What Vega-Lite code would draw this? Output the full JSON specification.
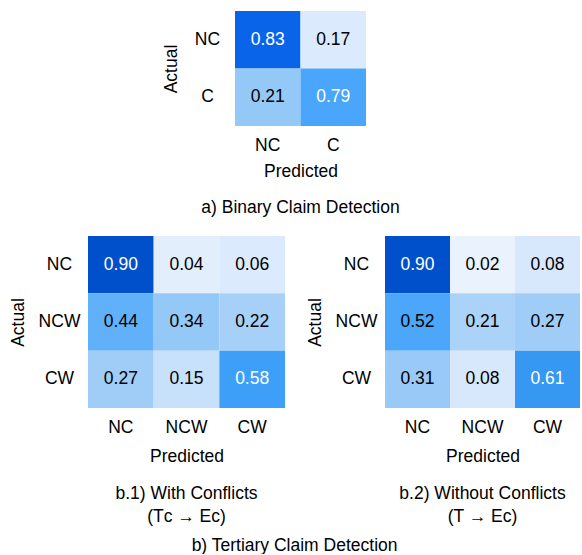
{
  "$schema": "https://vega.github.io/schema/vega-lite/v6.json",
  "padding": {"left": 9, "top": 11, "right": 0, "bottom": 0},
  "background": "white",
  "config": {
    "font": "Liberation Sans",
    "view": {"stroke": null},
    "axis": {"domain": false, "ticks": false, "tickSize": 0, "grid": false, "labelFontSize": 17.5, "titleFontSize": 17.5, "titleFontWeight": "normal", "labelColor": "#000", "titleColor": "#000", "labelPadding": 10, "titlePadding": 9},
    "title": {"fontSize": 17.5, "fontWeight": "normal", "color": "#000", "orient": "bottom", "frame": "group", "anchor": "middle"}
  },
  "datasets": {
    "binary": [
      {"actual": "NC", "predicted": "NC", "value": 0.83},
      {"actual": "NC", "predicted": "C", "value": 0.17},
      {"actual": "C", "predicted": "NC", "value": 0.21},
      {"actual": "C", "predicted": "C", "value": 0.79}
    ],
    "withConflicts": [
      {"actual": "NC", "predicted": "NC", "value": 0.90},
      {"actual": "NC", "predicted": "NCW", "value": 0.04},
      {"actual": "NC", "predicted": "CW", "value": 0.06},
      {"actual": "NCW", "predicted": "NC", "value": 0.44},
      {"actual": "NCW", "predicted": "NCW", "value": 0.34},
      {"actual": "NCW", "predicted": "CW", "value": 0.22},
      {"actual": "CW", "predicted": "NC", "value": 0.27},
      {"actual": "CW", "predicted": "NCW", "value": 0.15},
      {"actual": "CW", "predicted": "CW", "value": 0.58}
    ],
    "withoutConflicts": [
      {"actual": "NC", "predicted": "NC", "value": 0.90},
      {"actual": "NC", "predicted": "NCW", "value": 0.02},
      {"actual": "NC", "predicted": "CW", "value": 0.08},
      {"actual": "NCW", "predicted": "NC", "value": 0.52},
      {"actual": "NCW", "predicted": "NCW", "value": 0.21},
      {"actual": "NCW", "predicted": "CW", "value": 0.27},
      {"actual": "CW", "predicted": "NC", "value": 0.31},
      {"actual": "CW", "predicted": "NCW", "value": 0.08},
      {"actual": "CW", "predicted": "CW", "value": 0.61}
    ]
  },
  "spacing": 19,
  "resolve": {"scale": {"color": "independent", "x": "independent", "y": "independent"}},
  "vconcat": [
    {
      "spacing": 0,
      "resolve": {"scale": {"color": "independent", "x": "independent", "y": "independent"}},
      "hconcat": [
        {
          "width": 74,
          "height": 115,
          "mark": {"type": "text", "text": ""},
          "encoding": {}
        },
        {
          "width": 131,
          "height": 115,
          "title": {"text": "a) Binary Claim Detection", "offset": 19},
          "data": {"name": "binary"},
          "encoding": {
            "x": {"field": "predicted", "type": "nominal", "sort": ["NC", "C"], "axis": {"orient": "bottom", "labelAngle": 0, "title": "Predicted"}},
            "y": {"field": "actual", "type": "nominal", "sort": ["NC", "C"], "axis": {"title": "Actual", "labelAlign": "center", "labelPadding": 28, "titlePadding": 14}}
          },
          "layer": [
            {"mark": {"type": "rect"}, "encoding": {"color": {"field": "value", "type": "quantitative", "legend": null, "scale": {"domain": [0.17, 0.21, 0.79, 0.83], "range": ["#dbeafc", "#94c8f6", "#4aa6fa", "#0a64ea"], "interpolate": "rgb"}}}},
            {"mark": {"type": "text", "fontSize": 17.5}, "encoding": {"text": {"field": "value", "type": "quantitative", "format": ".2f"}, "color": {"condition": {"test": "datum.value > 0.55", "value": "white"}, "value": "black"}}}
          ]
        }
      ]
    },
    {
      "title": {"text": "b) Tertiary Claim Detection", "offset": 11, "frame": "bounds"},
      "resolve": {"scale": {"color": "independent", "x": "independent", "y": "independent"}},
      "spacing": 21,
      "hconcat": [
        {
          "width": 197,
          "height": 172,
          "title": {"text": ["b.1) With Conflicts", "(Tᴄ → Eᴄ)"], "offset": 20, "lineHeight": 23},
          "data": {"name": "withConflicts"},
          "encoding": {
            "x": {"field": "predicted", "type": "nominal", "sort": ["NC", "NCW", "CW"], "axis": {"orient": "bottom", "labelAngle": 0, "title": "Predicted", "titlePadding": 12}},
            "y": {"field": "actual", "type": "nominal", "sort": ["NC", "NCW", "CW"], "axis": {"title": "Actual", "labelAlign": "center", "labelPadding": 29, "titlePadding": 11}}
          },
          "layer": [
            {"mark": {"type": "rect"}, "encoding": {"color": {"field": "value", "type": "quantitative", "legend": null, "scale": {"domain": [0.02, 0.06, 0.15, 0.22, 0.34, 0.44, 0.58, 0.90], "range": ["#eaf2fd", "#dbeafc", "#c8e1fb", "#a6d0f8", "#94c8f6", "#60b0fa", "#3d9ff8", "#0050cc"], "interpolate": "rgb"}}}},
            {"mark": {"type": "text", "fontSize": 17.5}, "encoding": {"text": {"field": "value", "type": "quantitative", "format": ".2f"}, "color": {"condition": {"test": "datum.value > 0.55", "value": "white"}, "value": "black"}}}
          ]
        },
        {
          "width": 195,
          "height": 172,
          "title": {"text": ["b.2) Without Conflicts", "(T → Eᴄ)"], "offset": 20, "lineHeight": 23},
          "data": {"name": "withoutConflicts"},
          "encoding": {
            "x": {"field": "predicted", "type": "nominal", "sort": ["NC", "NCW", "CW"], "axis": {"orient": "bottom", "labelAngle": 0, "title": "Predicted", "titlePadding": 12}},
            "y": {"field": "actual", "type": "nominal", "sort": ["NC", "NCW", "CW"], "axis": {"title": "Actual", "labelAlign": "center", "labelPadding": 29, "titlePadding": 11}}
          },
          "layer": [
            {"mark": {"type": "rect"}, "encoding": {"color": {"field": "value", "type": "quantitative", "legend": null, "scale": {"domain": [0.02, 0.06, 0.15, 0.22, 0.34, 0.44, 0.58, 0.90], "range": ["#eaf2fd", "#dbeafc", "#c8e1fb", "#a6d0f8", "#94c8f6", "#60b0fa", "#3d9ff8", "#0050cc"], "interpolate": "rgb"}}}},
            {"mark": {"type": "text", "fontSize": 17.5}, "encoding": {"text": {"field": "value", "type": "quantitative", "format": ".2f"}, "color": {"condition": {"test": "datum.value > 0.55", "value": "white"}, "value": "black"}}}
          ]
        }
      ]
    }
  ]
}
